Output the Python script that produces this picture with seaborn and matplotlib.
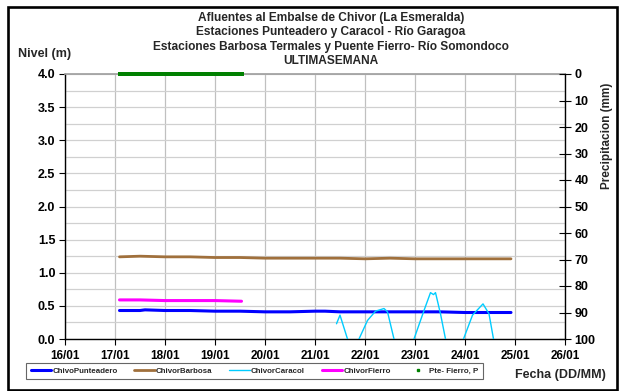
import matplotlib
matplotlib.use("Agg")
import matplotlib.pyplot as plt
import seaborn as sns
import numpy as np
import pandas as pd
from matplotlib.patches import Rectangle
from matplotlib.lines import Line2D

sns.set_theme(style="white")
plt.rcParams['font.family'] = ['Liberation Sans', 'DejaVu Sans']
plt.rcParams['font.weight'] = 'bold'

# ---- data (day of January, fractional) ----
punt_day = [17.09, 17.5, 17.6, 18.0, 18.5, 19.0, 19.5, 20.0, 20.5, 21.0, 21.2, 21.5,
            22.0, 22.5, 23.0, 23.5, 24.0, 24.5, 24.92]
punt_lvl = [0.43, 0.43, 0.44, 0.43, 0.43, 0.42, 0.42, 0.41, 0.41, 0.42, 0.42, 0.41,
            0.41, 0.41, 0.41, 0.41, 0.40, 0.40, 0.40]

barb_day = [17.09, 17.5, 18.0, 18.5, 19.0, 19.5, 20.0, 20.5, 21.0, 21.5, 22.0, 22.5,
            23.0, 23.5, 24.0, 24.5, 24.92]
barb_lvl = [1.24, 1.25, 1.24, 1.24, 1.23, 1.23, 1.22, 1.22, 1.22, 1.22, 1.21, 1.22,
            1.21, 1.21, 1.21, 1.21, 1.21]

fier_day = [17.09, 17.5, 18.0, 18.5, 19.0, 19.53]
fier_lvl = [0.59, 0.59, 0.58, 0.58, 0.58, 0.57]

cara_day = [21.43, 21.5, 21.65, 21.76, 21.88, 22.05, 22.21, 22.38, 22.45, 22.58, 22.78,
            22.98, 23.18, 23.31, 23.37, 23.41, 23.51, 23.61, 23.79, 23.97, 24.15, 24.36,
            24.48, 24.57, 24.7]
cara_lvl = [0.23, 0.36, 0.0, -0.3, 0.0, 0.28, 0.42, 0.46, 0.41, 0.0, -0.4,
            0.0, 0.43, 0.70, 0.67, 0.70, 0.38, 0.0, -0.4, 0.0, 0.36, 0.53,
            0.38, 0.0, -0.5]

prec_day = list(np.arange(17.09, 19.55, 0.05))
prec_mm = [0.0] * len(prec_day)

x_ticks = [16, 17, 18, 19, 20, 21, 22, 23, 24, 25, 26]
x_labels = ["16/01", "17/01", "18/01", "19/01", "20/01", "21/01", "22/01",
            "23/01", "24/01", "25/01", "26/01"]
y_ticks = [0.0, 0.5, 1.0, 1.5, 2.0, 2.5, 3.0, 3.5, 4.0]
p_ticks = [0, 10, 20, 30, 40, 50, 60, 70, 80, 90, 100]

fig = plt.figure(figsize=(6.22, 3.91), dpi=100)
ax = fig.add_axes([65/622, 1-339/391, 500/622, 265/391])

ax.set_xlim(16, 26)
ax.set_ylim(0, 4)
ax.set_xticks(x_ticks)
ax.set_xticklabels(x_labels)
ax.set_yticks(y_ticks)
ax.set_yticklabels([f"{v:.1f}" for v in y_ticks])
ax.set_yticks(np.arange(0, 4.01, 0.25), minor=True)
ax.grid(True, which='major', axis='x', color='#c0c0c0', lw=0.9)
ax.grid(True, which='both', axis='y', color='#d0d0d0', lw=0.9)
ax.set_axisbelow(True)

sns.lineplot(x=punt_day, y=punt_lvl, ax=ax, color='#0000FF', lw=2.2, estimator=None, zorder=3)
sns.lineplot(x=barb_day, y=barb_lvl, ax=ax, color='#A0703C', lw=2.0, estimator=None, zorder=3)
sns.lineplot(x=cara_day, y=cara_lvl, ax=ax, color='#00CCFF', lw=1.0, estimator=None, zorder=3)
sns.lineplot(x=fier_day, y=fier_lvl, ax=ax, color='#FF00FF', lw=2.2, estimator=None, zorder=3)
ax.set_ylim(0, 4)
ax.set_xlabel("")
ax.set_ylabel("")

for s in ['left', 'bottom']:
    ax.spines[s].set_color('black')
    ax.spines[s].set_linewidth(1.0)
ax.spines['top'].set_color('#a0a0a0')
ax.spines['right'].set_visible(False)
ax.tick_params(axis='both', which='major', direction='out', length=4, width=0.8,
               colors='black', bottom=True, left=True)
ax.tick_params(axis='x', labelsize=8.5, pad=4)
ax.tick_params(axis='y', labelsize=9, pad=3)
ax.tick_params(axis='y', which='minor', length=0)
for lab in ax.get_xticklabels() + ax.get_yticklabels():
    lab.set_fontweight('bold')

ax2 = ax.twinx()
sns.scatterplot(x=prec_day, y=prec_mm, ax=ax2, color='#008000', marker='s', s=6,
                edgecolor='none', zorder=4, clip_on=False)
ax2.set_ylim(100, 0)
ax2.set_yticks(p_ticks)
ax2.set_yticklabels([str(v) for v in p_ticks])
ax2.set_ylabel("")
ax2.grid(False)
for s in ['left', 'top', 'bottom']:
    ax2.spines[s].set_visible(False)
ax2.spines['right'].set_color('black')
ax2.spines['right'].set_linewidth(1.0)
ax2.tick_params(axis='y', direction='inout', length=8, width=0.8, labelsize=9,
                colors='black', pad=3, right=True)
for lab in ax2.get_yticklabels():
    lab.set_fontweight('bold')

# titles
titles = ["Afluentes al Embalse de Chivor (La Esmeralda)",
          "Estaciones Punteadero y Caracol - Río Garagoa",
          "Estaciones Barbosa Termales y Puente Fierro- Río Somondoco",
          "ULTIMASEMANA"]
for i, t in enumerate(titles):
    fig.text(331/622, 1-(18 + i*14.3)/391, t, ha='center', va='center',
             fontsize=8.6, fontweight='bold')

fig.text(18/622, 1-54/391, "Nivel (m)", ha='left', va='center', fontsize=9, fontweight='bold')
fig.text(607/622, 1-136/391, "Precipitacion (mm)", ha='center', va='center',
         rotation=90, fontsize=8.5, fontweight='bold')
fig.text(606/622, 1-375/391, "Fecha (DD/MM)", ha='right', va='center',
         fontsize=9, fontweight='bold')

handles = [Line2D([], [], color='#0000FF', lw=2.2),
           Line2D([], [], color='#A0703C', lw=2.0),
           Line2D([], [], color='#00CCFF', lw=1.0),
           Line2D([], [], color='#FF00FF', lw=2.2),
           Line2D([], [], color='#008000', lw=0, marker='s', markersize=2)]
labels = ["ChivoPunteadero", "ChivorBarbosa", "ChivorCaracol", "ChivorFierro", "Pte- Fierro, P"]
leg = fig.legend(handles, labels, loc='center', bbox_to_anchor=(254.5/622, 1-371/391),
                 ncol=5, frameon=True, fancybox=False,
                 handlelength=2.6, columnspacing=2.1, handletextpad=0.15,
                 borderpad=0.55, prop={'size': 5.7, 'weight': 'bold'})
leg.get_frame().set_edgecolor('#404040')
leg.get_frame().set_linewidth(0.8)

fig.patches.append(Rectangle((8/622, 1.5/391), 609/622, 383/391, transform=fig.transFigure,
                             fill=False, edgecolor='black', lw=1.9))

fig.savefig("out.png", dpi=100)
